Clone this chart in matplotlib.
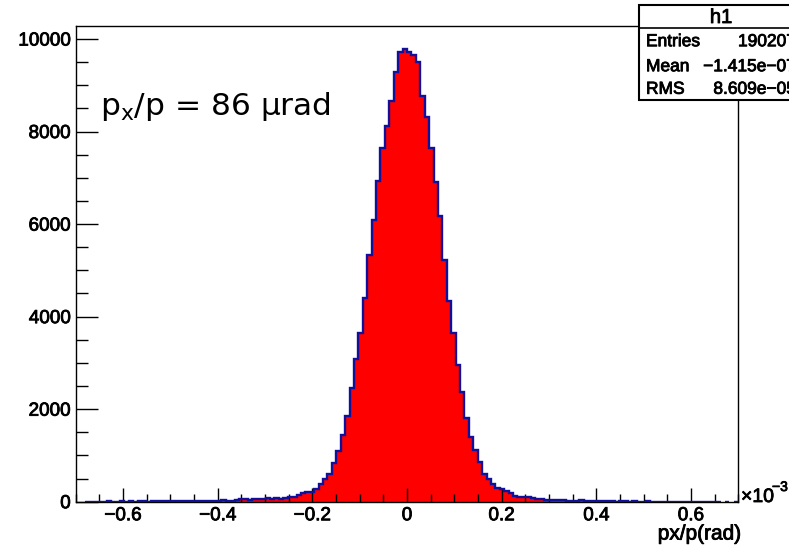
import numpy as np
import matplotlib
matplotlib.use('Agg')
import matplotlib.pyplot as plt
import matplotlib.patheffects as pe
from matplotlib.patches import Rectangle
from matplotlib.lines import Line2D
from matplotlib.ticker import MultipleLocator, FixedLocator, FixedFormatter

# ---------------- data ----------------
x_min, x_max, n_bins = -0.7, 0.7, 150   # px/p in units of 1e-3 rad

counts_far_left = [0, 0, 3, 2, 4, 3, 2, 5, 3, 4, 6, 3, 5, 4, 6, 5, 4, 7, 5, 6,
                   8, 5, 7, 6, 9, 7, 8, 6, 10, 9, 8, 12]                     # bins 0-31
counts_left_tail = [8, 40, 12, 15, 45, 48, 50, 46, 52, 48, 55, 90, 60, 70, 55, 75]  # 32-47
counts_left_rise = [100, 110, 144, 180, 210, 220, 285, 375, 490, 590, 830, 1090,
                    1441, 1852, 2451, 3077, 3639, 4396, 5332]               # 48-66
counts_core = [6088, 6931, 7637, 8127, 8667, 9293, 9712, 9784, 9725, 9654, 9497,
               8775, 8321, 7637, 6916, 6181]                                # 67-82
counts_right_fall = [5224, 4344, 3639, 2955, 2377, 1802, 1405, 1117, 865, 595, 495,
                     385, 295, 268, 238, 181, 130, 110, 100, 94, 80, 65, 60, 35, 38,
                     35, 32, 30, 15, 10, 8, 45]                             # 83-114
counts_far_right = [9, 7, 8, 6, 7, 5, 6, 4, 5, 6, 4, 5, 3, 4, 5, 3, 4, 3, 2, 4,
                    3, 2, 3, 2, 3, 2, 2, 3, 1, 2, 2, 0, 1, 0, 1]              # 115-149

x_ticks = [-0.6, -0.4, -0.2, 0.0, 0.2, 0.4, 0.6]
x_tick_labels = ['\u22120.6', '\u22120.4', '\u22120.2', '0', '0.2', '0.4', '0.6']
y_ticks = [0, 2000, 4000, 6000, 8000, 10000]
y_tick_labels = ['0', '2000', '4000', '6000', '8000', '10000']
x_label = 'px/p(rad)'
annotation = 'p$_\\mathregular{x}$/p = 86 \u03bcrad'
stats_title = 'h1'
stats_names = ['Entries', 'Mean', 'RMS']
stats_values = ['190207', '\u22121.415e\u221207', '8.609e\u221205']

# ---------------- figure ----------------
W, H = 789, 548
fig = plt.figure(figsize=(W / 100, H / 100), dpi=100)

def fx(px):
    return px / W

def fy(py):
    return 1 - py / H

heavy = [pe.withStroke(linewidth=0.6, foreground='black')]

ax_l, ax_r, ax_t, ax_b = 75.7, 738.3, 26.3, 501.7
ax = fig.add_axes([fx(ax_l), fy(ax_b), fx(ax_r - ax_l), (ax_b - ax_t) / H])
ax.set_axisbelow(False)

counts = np.array(counts_far_left + counts_left_tail + counts_left_rise + counts_core
                  + counts_right_fall + counts_far_right, dtype=float)
edges = np.linspace(x_min, x_max, n_bins + 1)

ax.stairs(counts, edges, fill=True, color='#ff0000', lw=0, zorder=2)
outline = np.where(counts > 0, counts, np.nan)
ax.stairs(outline, edges, color='#10109a', lw=1.7, zorder=3)

ax.set_xlim(x_min, x_max)
ax.set_ylim(0, 10275)

ax.xaxis.set_major_locator(FixedLocator(x_ticks))
ax.xaxis.set_major_formatter(FixedFormatter(x_tick_labels))
ax.xaxis.set_minor_locator(MultipleLocator(0.05))
ax.yaxis.set_major_locator(FixedLocator(y_ticks))
ax.yaxis.set_major_formatter(FixedFormatter(y_tick_labels))
ax.yaxis.set_minor_locator(MultipleLocator(500))

ax.tick_params(which='both', direction='in', top=False, right=False, color='black', width=1.0)
ax.tick_params(axis='x', which='major', length=10, pad=4)
ax.tick_params(axis='x', which='minor', length=5.8)
ax.tick_params(axis='y', which='major', length=15.6, pad=3.6)
ax.tick_params(axis='y', which='minor', length=8.4)
for lab in ax.get_xticklabels() + ax.get_yticklabels():
    lab.set_fontfamily('Liberation Sans')
    lab.set_fontsize(13.6)
    lab.set_path_effects(heavy)

for sp in ax.spines.values():
    sp.set_linewidth(1.0)
    sp.set_color('black')
    sp.set_zorder(2.5)

# axis label and exponent
fig.text(fx(741), fy(534), x_label, ha='right', va='center',
         family='Liberation Sans', size=15, path_effects=heavy)
fig.text(fx(741), fy(502), '\u00d710', ha='left', va='baseline',
         family='Liberation Sans', size=14, path_effects=heavy)
fig.text(fx(772), fy(491), '\u22123', ha='left', va='baseline',
         family='Liberation Sans', size=10, path_effects=heavy)

# annotation
fig.text(fx(100), fy(115), annotation, ha='left', va='baseline',
         family='DejaVu Sans', size=22.5)

# stats box
bx_l, bx_r, bx_t, bx_b, bx_div = 639, 803, 5, 100, 28.3
fig.add_artist(Rectangle((fx(bx_l), fy(bx_b)), fx(bx_r - bx_l), (bx_b - bx_t) / H,
                         transform=fig.transFigure, facecolor='white',
                         edgecolor='black', lw=1.5, zorder=10))
fig.add_artist(Line2D([fx(bx_l), fx(bx_r)], [fy(bx_div), fy(bx_div)],
                      transform=fig.transFigure, color='black', lw=1.2, zorder=11))
fig.text(fx(721), fy(17.5), stats_title, ha='center', va='center',
         family='Liberation Sans', size=14.5, zorder=12, path_effects=heavy)
row_y = [41.7, 66.7, 89.3]
for name, val, yy in zip(stats_names, stats_values, row_y):
    fig.text(fx(646), fy(yy), name, ha='left', va='center',
             family='Liberation Sans', size=12.5, zorder=12, path_effects=heavy)
    fig.text(fx(796), fy(yy), val, ha='right', va='center',
             family='Liberation Sans', size=12.5, zorder=12, path_effects=heavy)

fig.savefig('out.png', dpi=100)
